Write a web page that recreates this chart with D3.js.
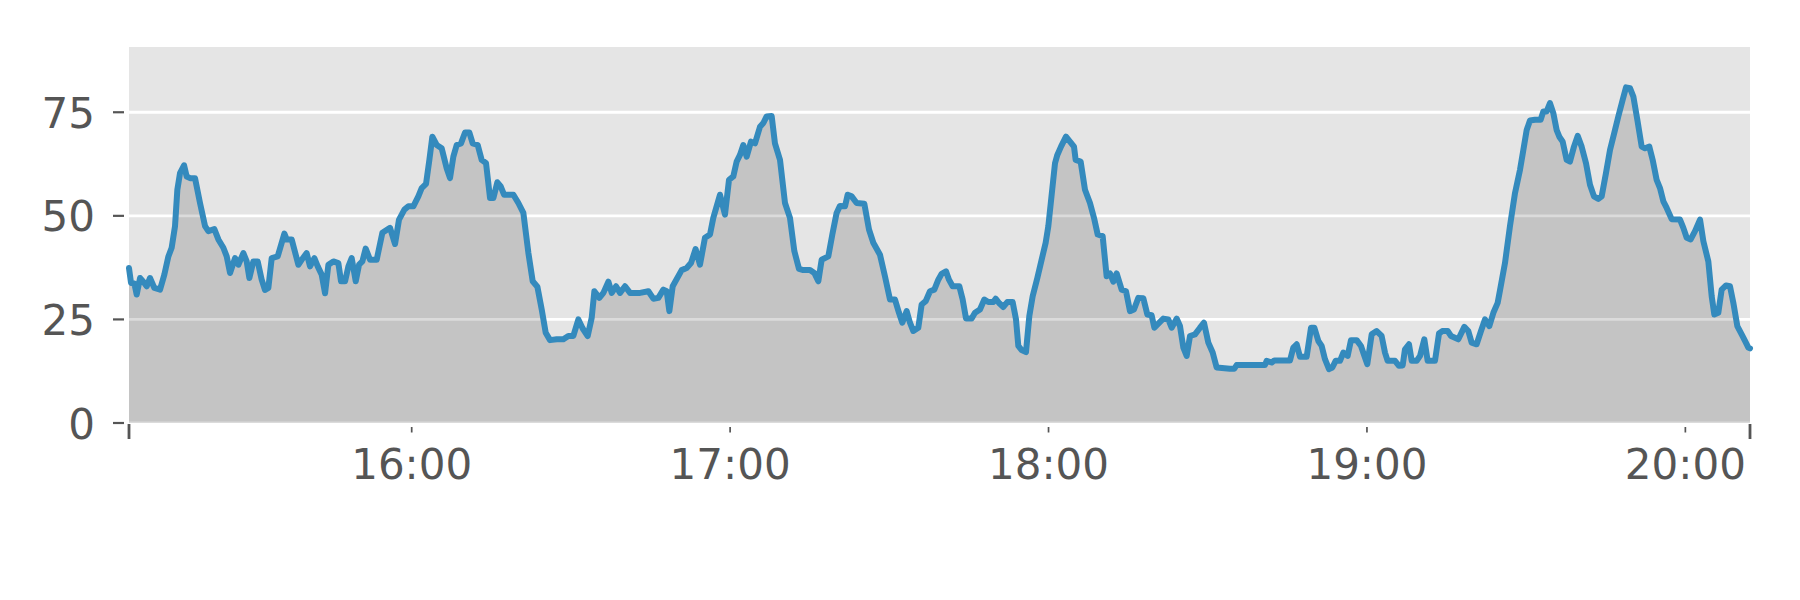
<!DOCTYPE html>
<html>
<head>
<meta charset="utf-8">
<script src="https://cdn.jsdelivr.net/npm/d3@7"></script>
<style>
  html, body { margin: 0; padding: 0; background: #ffffff; }
  svg { display: block; }
</style>
</head>
<body>
<svg id="chart" width="1800" height="600"></svg>
<script>
// minutes after 15:00
const minutes = [
  6.73, 7.11, 7.74, 8.18, 8.81, 9.43, 10.06, 10.69, 11.51, 12.58, 13.39, 14.15, 14.77, 15.40, 15.84, 16.34, 17.10, 17.60, 18.23, 19.17,
  20.11, 21.06, 21.68, 22.81, 23.57, 24.51, 25.14, 25.77, 26.71, 27.34, 28.28, 28.91, 29.41, 30.16, 30.98, 31.73, 32.36, 32.99, 33.62, 34.75,
  36.01, 36.44, 37.39, 38.64, 39.27, 40.21, 40.84, 41.66, 42.29, 43.04, 43.67, 44.30, 45.24, 46.18, 46.68, 47.44, 48.07, 48.69, 49.45, 50.08,
  50.70, 51.33, 52.15, 53.40, 54.47, 55.92, 56.86, 57.61, 58.62,
  59.37, 60.31, 61.25, 61.88, 62.70, 63.33, 63.89, 64.71, 65.65, 66.59, 67.22, 67.85, 68.48, 69.29, 70.05, 70.87, 71.49, 72.44, 73.19, 74.01,
  74.76, 75.39, 76.14, 76.77, 77.40, 79.16, 80.10, 81.04, 81.98, 82.80, 83.68, 84.50, 85.25, 86.07, 87.32, 88.58, 89.52, 90.46, 91.41, 92.22,
  93.16, 93.92, 94.42, 95.36, 96.12, 97.06, 97.69, 98.50, 99.26, 100.20, 101.14, 103.03, 104.60, 105.54, 106.48, 107.42, 108.05, 108.55, 109.18,
  110.87, 111.81, 112.63, 113.50, 114.32, 115.26, 116.21, 116.83, 117.46, 118.09, 119.03, 119.79, 120.60, 121.23, 121.86, 122.49, 123.12, 123.93,
  124.69, 125.63, 126.26, 126.88, 127.83, 128.45, 129.40, 130.34, 131.28, 132.10, 132.98, 133.79, 135.05, 135.87, 136.62, 137.25, 138.50, 139.26,
  140.07, 140.70, 141.65, 142.15, 142.90, 143.84, 145.29, 146.17, 146.98, 148.24, 149.18, 150.13, 151.07, 151.82, 152.45, 153.27, 153.89, 154.52,
  155.46, 156.09, 156.85, 157.66, 158.48, 159.23, 159.86, 160.68, 161.24, 161.93,
  163.19, 163.82, 164.45, 165.51, 166.14, 167.08, 167.90, 168.65, 169.60, 170.04, 170.73, 171.48, 172.23, 173.24, 173.87, 174.31, 174.94, 175.75,
  176.38, 177.01, 177.89, 178.70, 179.46, 179.96, 180.59, 181.22, 181.66, 182.35, 183.29, 184.04, 184.80, 185.11, 186.05, 186.87, 187.81, 188.57,
  189.26, 190.20, 190.95, 191.58, 192.21, 192.84, 193.78, 194.60, 195.35, 196.10, 196.92, 197.86, 198.62, 199.43, 199.94, 200.69, 201.63, 202.57,
  203.20, 204.14, 204.77, 205.40, 206.03, 206.66, 207.60, 208.54, 209.29, 210.11, 210.93, 211.68, 214.19,
  215.01, 215.45, 220.79, 221.10, 222.04, 222.55, 225.50, 226.13, 226.76, 227.38, 228.64, 229.46, 230.08, 230.84, 231.47, 232.09, 232.85, 233.48,
  234.10, 234.92, 235.55, 236.37, 236.99, 238.06, 238.88, 239.51, 240.07, 240.89, 241.83, 242.77, 243.40, 243.90, 245.29, 246.04, 246.73, 247.17,
  247.92, 248.43, 249.37, 250.00, 250.81, 251.44, 252.82, 253.58, 254.20, 255.21, 255.84, 257.22, 258.35, 259.10, 259.73, 260.67, 261.49, 262.24,
  263.06, 263.82, 264.63,
  265.07, 266.01, 266.95, 267.90, 268.84, 269.47, 270.10, 270.72, 271.67, 272.73, 273.24, 273.86, 274.49, 275.12, 275.75, 276.25, 276.88, 277.63,
  278.26, 279.01, 279.71, 280.46, 281.28, 282.03, 282.78, 283.60, 284.23, 285.04, 285.80, 286.74, 287.37, 288.19, 288.81, 289.57, 290.20, 290.95,
  291.77, 292.39, 293.21, 293.84, 294.59, 295.22, 295.85, 296.48, 297.42, 298.99, 299.62, 300.25, 301.00, 301.82, 302.76, 303.39, 304.33, 304.96,
  305.46, 306.21, 306.84, 307.66, 308.41, 309.04, 309.79, 310.61, 311.24, 311.87, 312.18
];
const values = [
  37.4, 33.8, 33.7, 31.0, 35.0, 34.1, 33.0, 35.0, 32.6, 32.2, 35.8, 40.2, 42.3, 47.5, 56.3, 60.3, 62.2, 59.5, 59.1, 59.1,
  53.1, 47.5, 46.3, 46.8, 44.3, 42.3, 40.2, 36.2, 39.8, 38.2, 41.0, 39.0, 35.0, 39.0, 39.0, 34.6, 32.1, 32.6, 39.8, 40.2,
  45.7, 44.3, 44.3, 38.2, 39.4, 41.0, 37.8, 39.8, 37.8, 35.8, 31.3, 38.2, 39.0, 38.6, 34.2, 34.2, 37.8, 39.8, 34.2, 38.2,
  39.0, 42.1, 39.4, 39.4, 45.9, 47.1, 43.2, 49.1, 51.5,
  52.3, 52.3, 54.7, 56.7, 57.7, 63.5, 69.1, 67.1, 66.3, 61.5, 59.1, 64.3, 67.1, 67.5, 70.1, 70.1, 67.5, 67.1, 63.5, 62.7,
  54.3, 54.3, 58.1, 57.1, 55.1, 55.1, 53.1, 50.7, 41.1, 34.2, 32.9, 27.4, 21.8, 20.0, 20.2, 20.2, 21.0, 21.0, 25.0, 22.8,
  21.0, 25.4, 31.8, 30.2, 31.4, 34.1, 31.4, 33.0, 31.4, 33.0, 31.4, 31.4, 31.8, 30.0, 30.2, 32.2, 31.8, 27.0, 33.0,
  36.9, 37.4, 38.6, 42.0, 38.2, 44.7, 45.5, 49.5, 52.3, 55.1, 50.3, 58.7, 59.5, 63.1, 64.7, 67.1, 64.3, 67.9,
  67.5, 71.5, 72.4, 74.0, 74.1, 67.5, 63.5, 53.1, 49.5, 41.5, 37.2, 36.9, 36.9, 36.2, 34.2, 39.4, 40.2, 45.5,
  50.7, 52.4, 52.3, 55.1, 54.7, 53.1, 52.9, 46.7, 43.5, 40.6, 35.4, 29.8, 29.8, 26.6, 24.2, 27.0, 24.2, 22.2,
  23.0, 28.6, 29.4, 31.8, 32.2, 34.6, 36.0, 36.6, 34.6, 33.0,
  33.0, 29.8, 25.2, 25.2, 26.6, 27.4, 29.8, 29.2, 29.2, 30.0, 28.9, 28.0, 29.2, 29.2, 25.0, 18.6, 17.6, 17.1,
  25.8, 30.6, 35.0, 39.4, 43.5, 47.5, 55.1, 62.7, 64.7, 66.7, 69.1, 67.9, 66.7, 63.5, 63.1, 56.3, 53.1, 49.5,
  45.5, 45.1, 35.4, 36.1, 34.1, 36.1, 32.2, 31.8, 27.0, 27.4, 30.2, 30.1, 26.2, 26.0, 23.0, 24.0, 25.2, 25.0,
  23.0, 25.2, 23.4, 18.2, 16.2, 21.0, 21.4, 23.0, 24.2, 19.4, 17.0, 13.4, 13.1,
  13.1, 14.0, 14.0, 15.0, 14.6, 15.1, 15.1, 18.2, 19.0, 16.0, 16.0, 23.0, 23.0, 19.8, 18.6, 15.4, 13.0, 13.4,
  15.0, 15.0, 17.0, 16.2, 20.0, 20.0, 18.6, 16.2, 14.2, 21.4, 22.2, 21.0, 17.0, 15.0, 15.0, 13.8, 13.9, 17.8,
  19.0, 15.0, 15.0, 16.2, 20.2, 15.0, 15.0, 21.6, 22.2, 22.2, 21.0, 20.2, 23.2, 22.2, 19.4, 19.0, 22.2, 25.0,
  23.4, 26.6, 29.0,
  32.0, 38.6, 47.5, 55.5, 61.1, 65.9, 70.7, 73.0, 73.2, 73.2, 75.2, 75.2, 77.2, 74.8, 70.7, 69.1, 67.9, 63.5,
  63.1, 66.7, 69.3, 66.7, 62.7, 57.5, 54.7, 54.1, 54.7, 60.3, 65.9, 70.7, 74.0, 78.0, 81.0, 80.8, 78.8, 73.2,
  66.7, 66.3, 66.7, 63.5, 58.7, 56.7, 53.5, 51.9, 49.2, 49.1, 47.1, 44.7, 44.3, 46.3, 49.1, 43.9, 39.0, 30.6,
  26.2, 26.6, 32.2, 33.2, 33.0, 29.0, 23.4, 21.4, 19.8, 18.2, 18.0
];
const yTicks = [0, 25, 50, 75];
const yMax = 90.75;

const base = new Date(2020, 0, 1, 15, 0, 0);
const data = minutes.map((m, i) => ({ t: new Date(base.getTime() + m * 60000), v: values[i] }));

const svg = d3.select("#chart");
const L = 129, R = 1750, T = 47, B = 423;

const x = d3.scaleTime().domain(d3.extent(data, d => d.t)).range([L, R]);
const y = d3.scaleLinear().domain([0, yMax]).range([B, T]);

// background
svg.append("rect").attr("x", L).attr("y", T).attr("width", R - L).attr("height", B - T).attr("fill", "#E5E5E5");

// gridlines
svg.append("g").selectAll("line").data(yTicks).join("line")
  .attr("x1", L).attr("x2", R)
  .attr("y1", d => y(d)).attr("y2", d => y(d))
  .attr("stroke", "#ffffff").attr("stroke-width", 2.8);

// area fill
const area = d3.area().x(d => x(d.t)).y0(y(0)).y1(d => y(d.v));
svg.append("path").datum(data).attr("d", area).attr("fill", "#000000").attr("fill-opacity", 0.14);

// line
const line = d3.line().x(d => x(d.t)).y(d => y(d.v));
svg.append("path").datum(data).attr("d", line)
  .attr("fill", "none").attr("stroke", "#348ABD").attr("stroke-width", 6)
  .attr("stroke-linejoin", "round").attr("stroke-linecap", "round");

// y axis ticks & labels
const yAxis = svg.append("g");
yAxis.selectAll("line").data(yTicks).join("line")
  .attr("x1", 113).attr("x2", 124)
  .attr("y1", d => y(d)).attr("y2", d => y(d))
  .attr("stroke", "#555555").attr("stroke-width", 2.2);
yAxis.selectAll("text").data(yTicks).join("text")
  .attr("x", 95).attr("y", d => y(d) + 15.5)
  .attr("text-anchor", "end")
  .attr("font-family", "DejaVu Sans").attr("font-size", 42).attr("fill", "#555555")
  .text(d => d);

// x axis: hourly minor ticks + labels, major ticks at ends
const hours = x.ticks(d3.timeHour.every(1));
const fmt = d3.timeFormat("%H:%M");
const xAxis = svg.append("g");
xAxis.selectAll("line.minor").data(hours).join("line").attr("class", "minor")
  .attr("x1", d => x(d)).attr("x2", d => x(d))
  .attr("y1", 427).attr("y2", 432.5)
  .attr("stroke", "#555555").attr("stroke-width", 1.7);
xAxis.selectAll("line.major").data(x.domain()).join("line").attr("class", "major")
  .attr("x1", d => x(d)).attr("x2", d => x(d))
  .attr("y1", 424).attr("y2", 439)
  .attr("stroke", "#555555").attr("stroke-width", 2.8);
xAxis.selectAll("text").data(hours).join("text")
  .attr("x", d => x(d)).attr("y", 479)
  .attr("text-anchor", "middle")
  .attr("font-family", "DejaVu Sans").attr("font-size", 42).attr("fill", "#555555")
  .text(d => fmt(d));
</script>
</body>
</html>
